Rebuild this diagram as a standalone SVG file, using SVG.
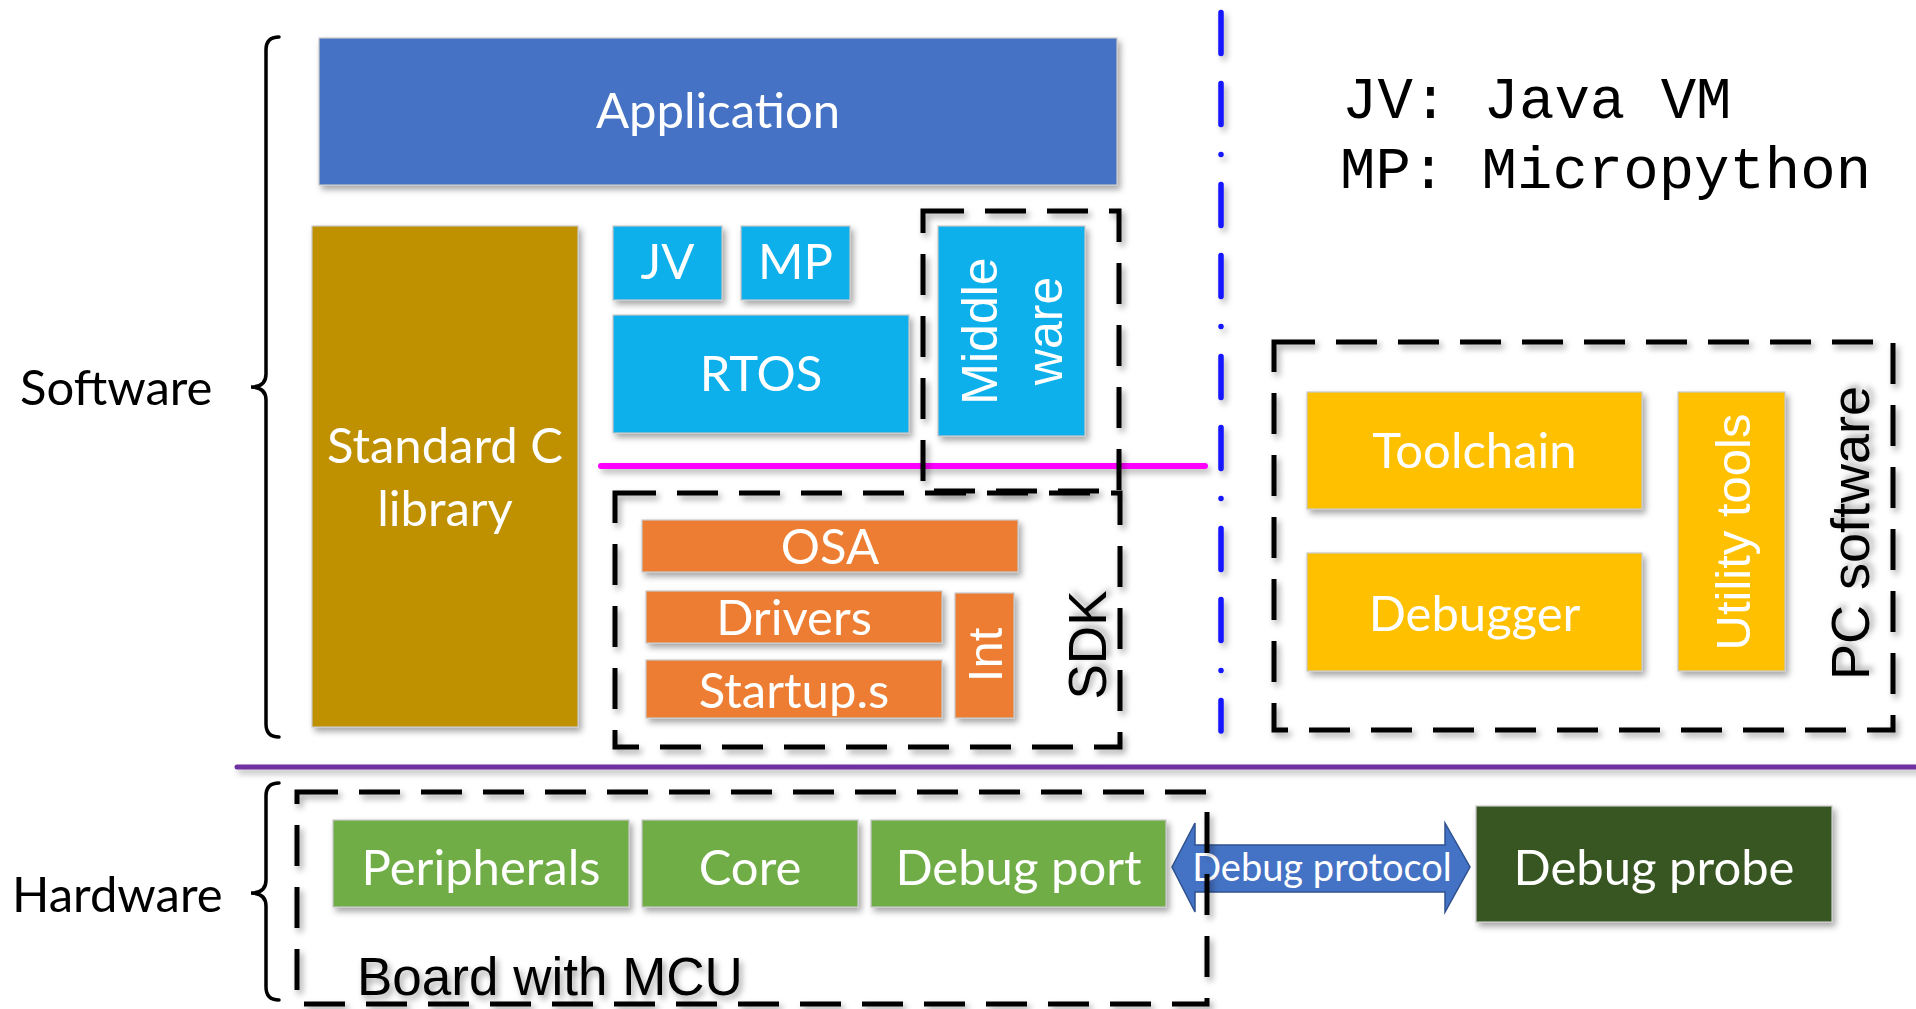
<svg xmlns="http://www.w3.org/2000/svg" width="1916" height="1009" viewBox="0 0 1916 1009">
<defs>
<filter id="sh" x="-20%" y="-20%" width="140%" height="140%">
<feDropShadow dx="3" dy="4" stdDeviation="3" flood-color="#000" flood-opacity="0.35"/>
</filter>
<filter id="shl" filterUnits="userSpaceOnUse" x="0" y="0" width="1916" height="1009">
<feDropShadow dx="3" dy="4" stdDeviation="3" flood-color="#000" flood-opacity="0.3"/>
</filter>
<style>
.box{stroke:#c8c8c8;stroke-width:1.2;filter:url(#sh)}
.t{font-family:Lato,"Open Sans","Liberation Sans",sans-serif;font-size:49px;fill:#fff;text-anchor:middle}
.a{font-family:"Liberation Sans",Arial,sans-serif;text-anchor:middle}
.lbl{font-family:Lato,"Open Sans","Liberation Sans",sans-serif;font-size:49px;fill:#000}
.dash{fill:none;stroke:#000;stroke-width:5;stroke-dasharray:41 21;filter:url(#sh)}
.mono{font-family:"Liberation Mono","Courier New",monospace;font-size:59px;fill:#000}
.brace{fill:none;stroke:#000;stroke-width:3.5;stroke-linecap:round}
</style>
</defs>
<rect width="1916" height="1009" fill="#fff"/>

<g id="separators">
<line x1="1221" y1="12.5" x2="1221" y2="731" stroke="#1414ff" stroke-width="5.5" stroke-linecap="round" stroke-dasharray="41 30 41 30 0 30" filter="url(#shl)"/>
<line x1="601" y1="466" x2="1205" y2="466" stroke="#ff00ff" stroke-width="6" stroke-linecap="round" filter="url(#shl)"/>
<line x1="237" y1="767" x2="1920" y2="767" stroke="#7030a0" stroke-width="5" stroke-linecap="round" filter="url(#shl)"/>
</g>

<g id="software-brace">
<path class="brace" d="M279 37 Q266 37 266 50 L266 374 Q266 387 251 387 Q266 387 266 400 L266 724 Q266 737 279 737"/>
<text class="lbl" x="20" y="405">Software</text>
</g>
<g id="hardware-brace">
<path class="brace" d="M279 783 Q266 783 266 796 L266 880 Q266 893 251 893 Q266 893 266 906 L266 987 Q266 1000 279 1000"/>
<text class="lbl" x="12" y="912">Hardware</text>
</g>

<g id="legend">
<text class="mono" x="1342" y="118" xml:space="preserve">JV: Java VM</text>
<text class="mono" x="1340" y="188" xml:space="preserve">MP: Micropython</text>
</g>

<g id="application">
<rect class="box" x="319" y="38" width="798" height="147" fill="#4472c4"/>
<text class="t" x="718" y="128">Application</text>
</g>
<g id="stdc">
<rect class="box" x="312" y="226" width="266" height="501" fill="#bf9000"/>
<text class="t" x="445" y="463">Standard C</text>
<text class="t" x="445" y="526">library</text>
</g>
<g id="jv">
<rect class="box" x="613" y="226" width="109" height="74" fill="#0eb0ea"/>
<text class="t" x="667.5" y="279">JV</text>
</g>
<g id="mp">
<rect class="box" x="741" y="226" width="109" height="74" fill="#0eb0ea"/>
<text class="t" x="795.5" y="279">MP</text>
</g>
<g id="rtos">
<rect class="box" x="613" y="315" width="296" height="118" fill="#0eb0ea"/>
<text class="t" x="761" y="391">RTOS</text>
</g>
<g id="middleware">
<rect class="box" x="938" y="226" width="147" height="210" fill="#0eb0ea"/>
<text class="a" font-size="50" fill="#fff" transform="translate(997 331) rotate(-90)">Middle</text>
<text class="a" font-size="50" fill="#fff" transform="translate(1062 331) rotate(-90)">ware</text>
</g>
<g id="middleware-group">
<rect class="dash" x="923" y="211" width="196" height="280"/>
</g>

<g id="sdk">
<rect class="dash" x="615" y="493" width="505" height="254"/>
<text class="a" font-size="53" fill="#000" filter="url(#sh)" transform="translate(1106 645) rotate(-90)">SDK</text>
</g>
<g id="osa">
<rect class="box" x="642" y="520" width="376" height="52" fill="#ed7d31"/>
<text class="t" x="830" y="564">OSA</text>
</g>
<g id="drivers">
<rect class="box" x="646" y="591" width="296" height="52" fill="#ed7d31"/>
<text class="t" x="794" y="635">Drivers</text>
</g>
<g id="startup">
<rect class="box" x="646" y="660" width="296" height="58" fill="#ed7d31"/>
<text class="t" x="794" y="708">Startup.s</text>
</g>
<g id="int">
<rect class="box" x="955" y="593" width="59" height="125" fill="#ed7d31"/>
<text class="a" font-size="49" fill="#fff" transform="translate(1002 655) rotate(-90)">Int</text>
</g>

<g id="pc-software">
<rect class="dash" x="1274" y="342" width="619" height="388"/>
<text class="a" font-size="54" fill="#000" filter="url(#sh)" transform="translate(1869 533) rotate(-90)">PC software</text>
</g>
<g id="toolchain">
<rect class="box" x="1307" y="392" width="335" height="117" fill="#ffc000"/>
<text class="t" x="1474.5" y="468">Toolchain</text>
</g>
<g id="debugger">
<rect class="box" x="1307" y="553" width="335" height="118" fill="#ffc000"/>
<text class="t" x="1474.5" y="631">Debugger</text>
</g>
<g id="utility-tools">
<rect class="box" x="1678" y="392" width="107" height="279" fill="#ffc000"/>
<text class="a" font-size="49" fill="#fff" transform="translate(1750 532) rotate(-90)">Utility tools</text>
</g>

<g id="connectors">
<path d="M1172 867 L1195 823 L1195 845 L1445 845 L1445 823 L1470 867 L1445 912 L1445 892 L1195 892 L1195 912 Z" fill="#4472c4" stroke="#2f528f" stroke-width="1.5"/>
<text class="t" x="1322" y="881" style="font-size:38px">Debug protocol</text>
</g>

<g id="board">
<rect class="dash" x="297" y="792" width="910" height="212"/>
<text class="a" font-size="53" fill="#000" filter="url(#sh)" x="357" y="995" style="text-anchor:start">Board with MCU</text>
</g>
<g id="peripherals">
<rect class="box" x="333" y="820" width="296" height="87" fill="#70ad47"/>
<text class="t" x="481" y="885">Peripherals</text>
</g>
<g id="core">
<rect class="box" x="642" y="820" width="216" height="87" fill="#70ad47"/>
<text class="t" x="750" y="885">Core</text>
</g>
<g id="debug-port">
<rect class="box" x="871" y="820" width="295" height="87" fill="#70ad47"/>
<text class="t" x="1018.5" y="885">Debug port</text>
</g>
<g id="debug-probe">
<rect class="box" x="1476" y="806" width="356" height="116" fill="#385723"/>
<text class="t" x="1654" y="885">Debug probe</text>
</g>
</svg>
